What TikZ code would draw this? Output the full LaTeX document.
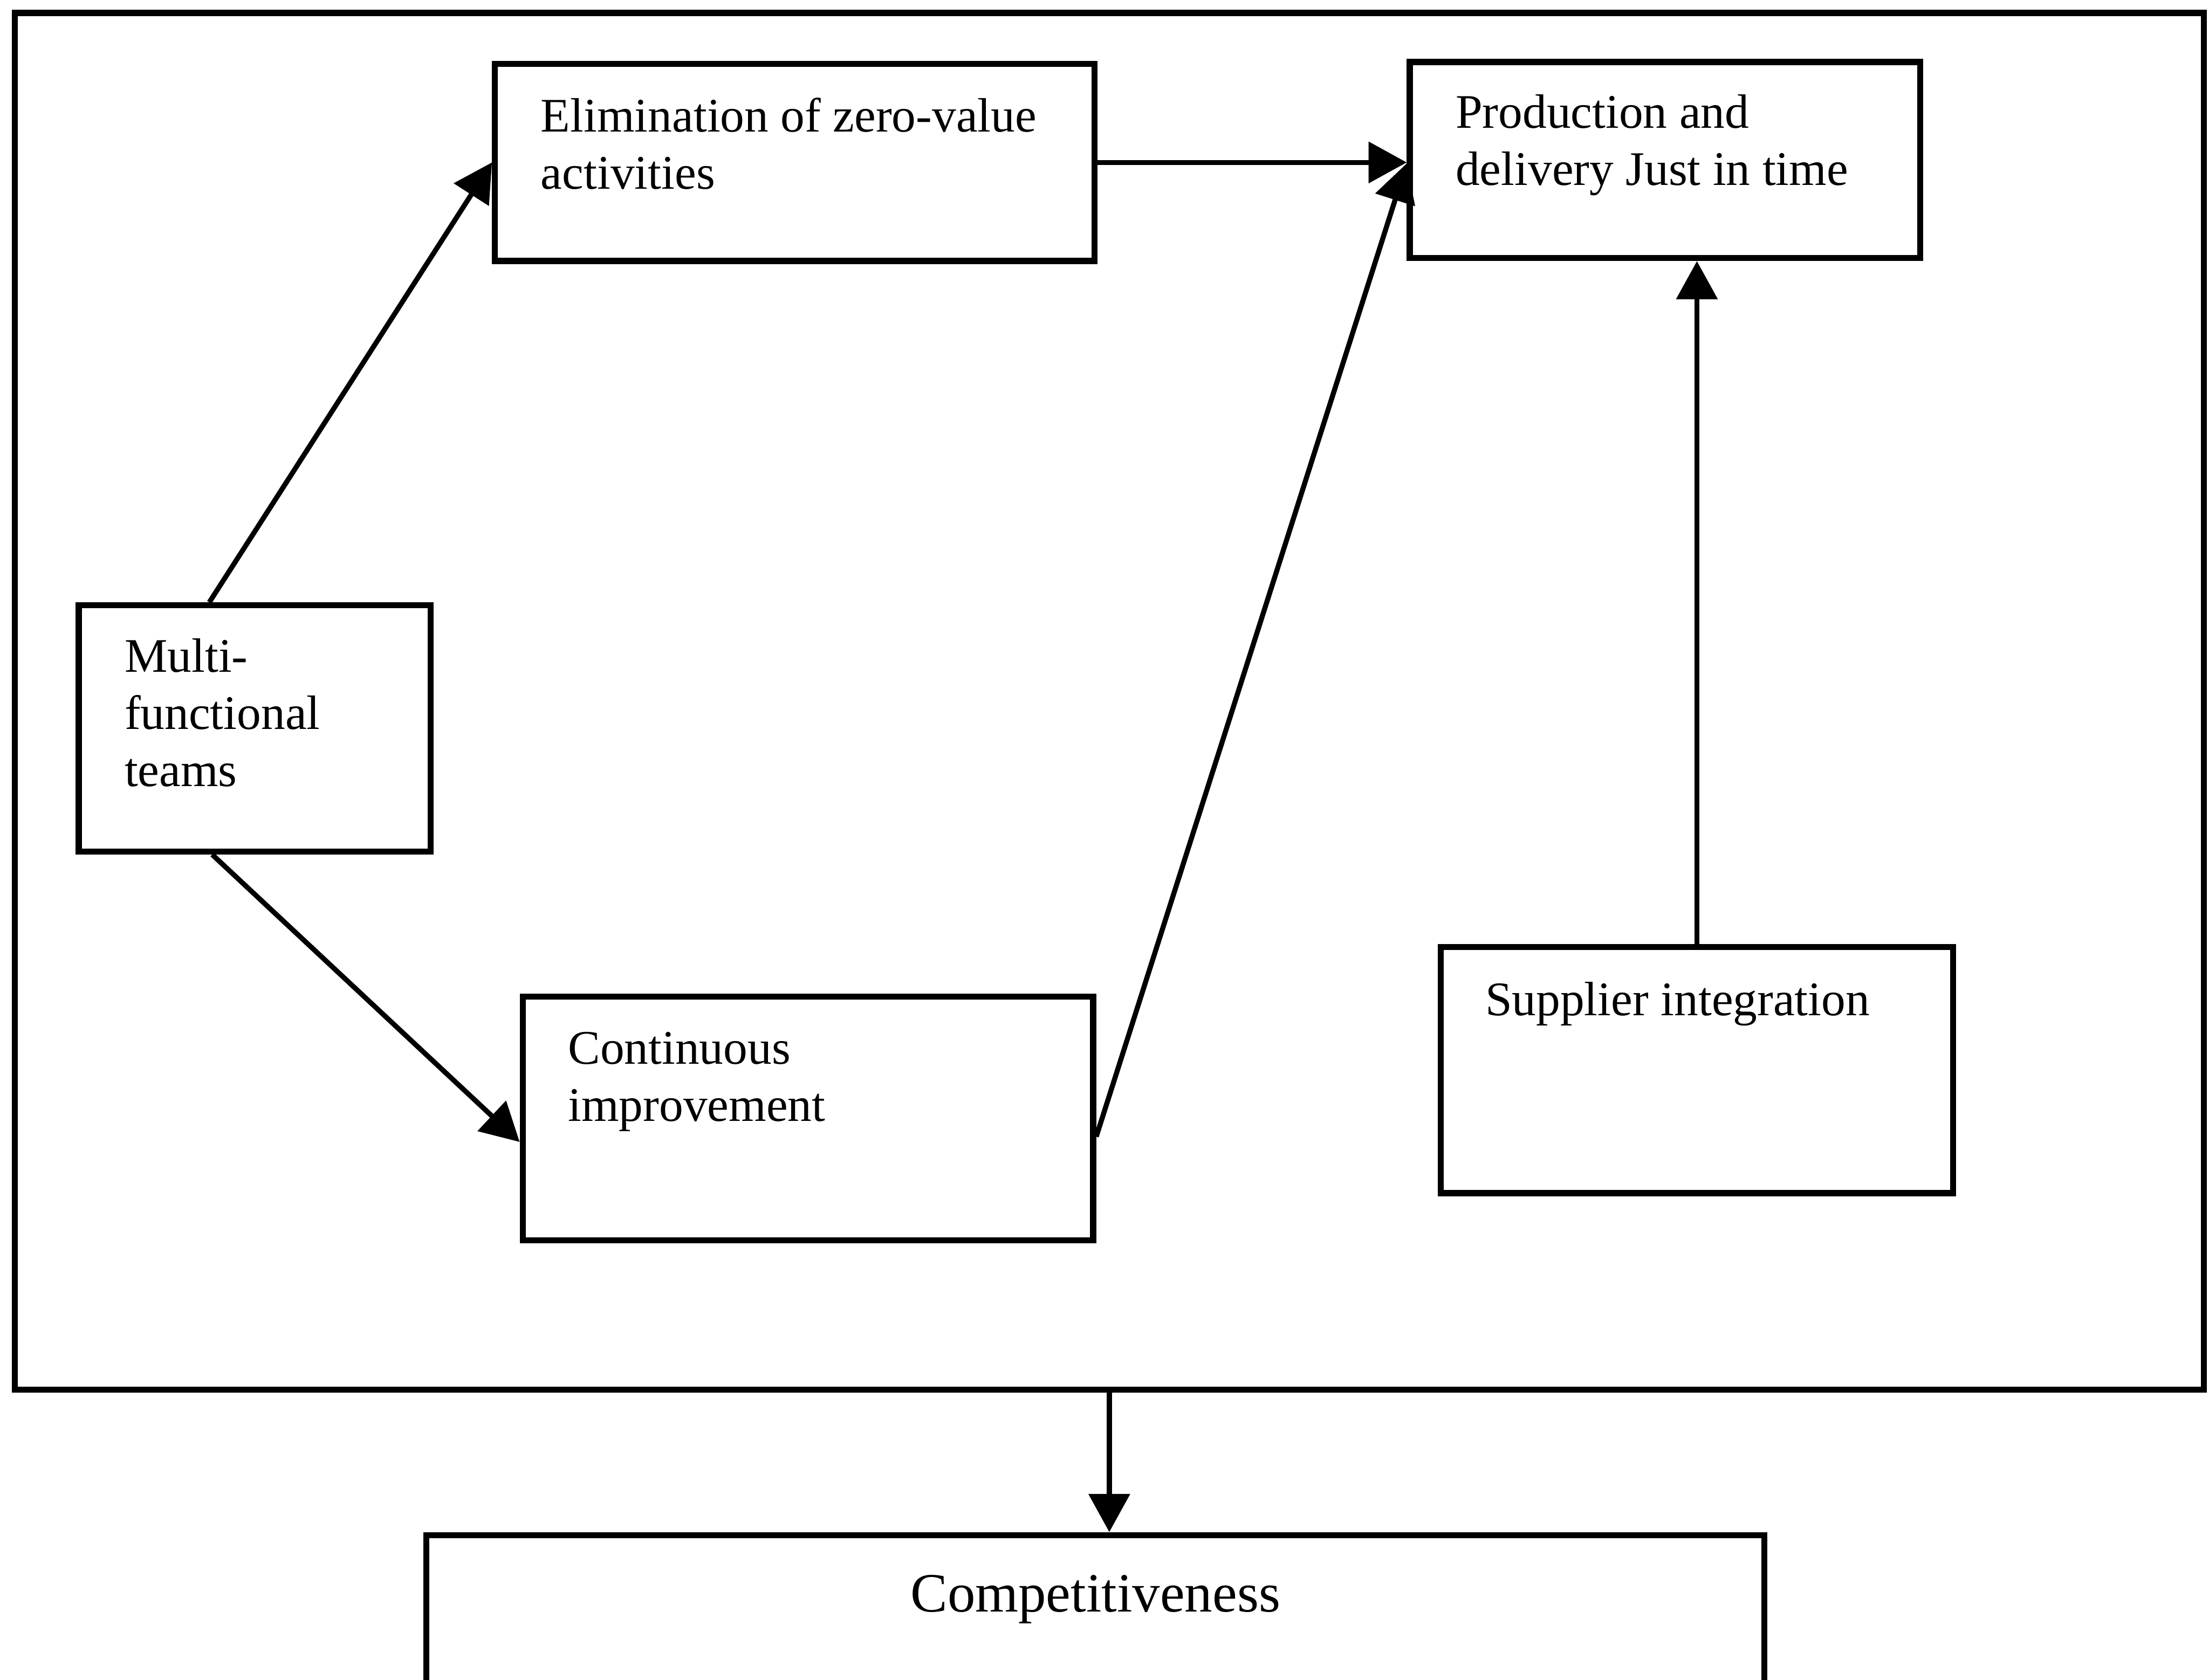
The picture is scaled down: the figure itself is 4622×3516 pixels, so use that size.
\documentclass[tikz,border=0pt]{standalone}
\usepackage{fontspec}
\setmainfont{Liberation Serif}
\usetikzlibrary{arrows.meta,calc}

\begin{document}
\begin{tikzpicture}[x=0.01cm,y=-0.01cm,
  box/.style={draw=black, line width=3.6pt, rectangle, inner sep=0pt},
  conn/.style={line width=3pt, -{Triangle[length=0.8cm,width=0.85cm]}},
  % multi-line labels: placed by the baseline of their last line
  lbl/.style={anchor=base west, inner sep=0pt, align=left,
              font=\fontsize{28.7}{34}\selectfont},
]
\clip (0,0) rectangle (4622,3516);
\fill[white] (0,0) rectangle (4622,3516);

% frame around the lean practices
\node[box, minimum width=45.78cm, minimum height=28.8cm] (frame) at (2321,1468) {};

% practice boxes
\node[box, minimum width=12.54cm, minimum height=4.12cm] (elim)  at (1663,340) {};
\node[box, minimum width=10.67cm, minimum height=4.10cm] (prod)  at (3483.5,335) {};
\node[box, minimum width=7.36cm,  minimum height=5.15cm] (multi) at (533,1524.5) {};
\node[box, minimum width=11.93cm, minimum height=5.10cm] (cont)  at (1690.5,2341) {};
\node[box, minimum width=10.71cm, minimum height=5.15cm] (supp)  at (3550.5,2239.5) {};
\node[box, minimum width=27.98cm, minimum height=3.09cm] (comp)  at (2292,3367.5) {};

% box texts
\node[lbl] (elimtext)  at (1131,395)  {Elimination of zero-value\\activities};
\node[lbl] (prodtext)  at (3045,388)  {Production and\\delivery Just in time};
\node[lbl] (multitext) at (260,1646)  {Multi-\\functional\\teams};
\node[lbl] (conttext)  at (1188,2346) {Continuous\\improvement};
\node[lbl] (supptext)  at (3107,2125) {Supplier integration};
\node[anchor=base, inner sep=0pt, font=\fontsize{33}{40}\selectfont]
      (comptext) at (2292,3373) {Competitiveness};

% connectors
\draw[conn] ([xshift=-0.95cm]multi.north) -- (elim.west);
\draw[conn] ([xshift=-0.89cm]multi.south) -- ([yshift=-0.49cm]cont.west);
\draw[conn] (elim.east) -- (elim.east -| prod.west);
\draw[conn] ([yshift=-0.38cm]cont.east) -- ([yshift=-0.07cm]prod.west);
\draw[conn] (supp.north) -- (supp.north |- prod.south);
\draw[conn] (frame.south) -- (frame.south |- comp.north);
\end{tikzpicture}
\end{document}
